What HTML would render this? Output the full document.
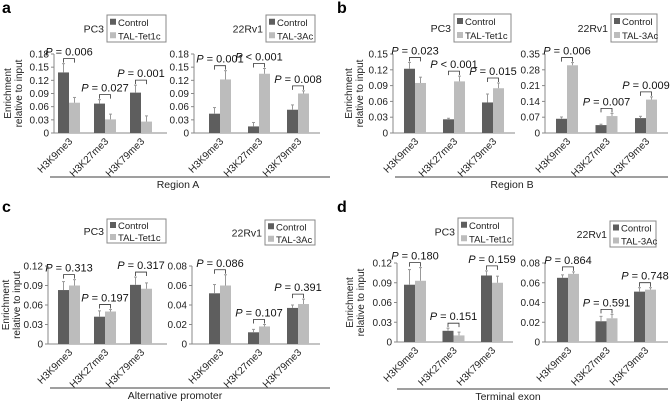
<!DOCTYPE html>
<html><head><meta charset="utf-8"><style>
body{margin:0;background:#fff;}
svg{display:block;font-family:"Liberation Sans",Arial,sans-serif;}
</style></head><body>
<svg id="fig" width="670" height="402" viewBox="0 0 670 402"></svg>
<script>
const categories = ["H3K9me3","H3K27me3","H3K79me3"];
// Panel a
const aPC3Ctrl=[0.138,0.067,0.092], aPC3Tal=[0.069,0.031,0.026], aPC3CtrlErr=[0.02,0.009,0.017], aPC3TalErr=[0.012,0.012,0.013];
const aPC3P=["P = 0.006","P = 0.027","P = 0.001"], aPC3Ticks=["0","0.03","0.06","0.09","0.12","0.15","0.18"];
const aRvCtrl=[0.044,0.015,0.053], aRvTal=[0.122,0.135,0.090], aRvCtrlErr=[0.014,0.009,0.011], aRvTalErr=[0.02,0.012,0.006];
const aRvP=["P = 0.001","P < 0.001","P = 0.008"], aRvTicks=["0","0.03","0.06","0.09","0.12","0.15","0.18"];
// Panel b
const bPC3Ctrl=[0.122,0.026,0.058], bPC3Tal=[0.095,0.098,0.085], bPC3CtrlErr=[0.012,0.002,0.016], bPC3TalErr=[0.011,0.01,0.01];
const bPC3P=["P = 0.023","P < 0.001","P = 0.015"], bPC3Ticks=["0","0.03","0.06","0.09","0.12","0.15"];
const bRvCtrl=[0.063,0.035,0.066], bRvTal=[0.300,0.075,0.148], bRvCtrlErr=[0.008,0.004,0.008], bRvTalErr=[0.012,0.012,0.012];
const bRvP=["P = 0.006","P = 0.007","P = 0.009"], bRvTicks=["0","0.07","0.14","0.21","0.28","0.35"];
// Panel c
const cPC3Ctrl=[0.083,0.042,0.091], cPC3Tal=[0.090,0.050,0.085], cPC3CtrlErr=[0.013,0.009,0.012], cPC3TalErr=[0.009,0.003,0.009];
const cPC3P=["P = 0.313","P = 0.197","P = 0.317"], cPC3Ticks=["0","0.03","0.06","0.09","0.12"];
const cRvCtrl=[0.052,0.012,0.037], cRvTal=[0.060,0.018,0.041], cRvCtrlErr=[0.009,0.003,0.003], cRvTalErr=[0.011,0.002,0.005];
const cRvP=["P = 0.086","P = 0.107","P = 0.391"], cRvTicks=["0","0.02","0.04","0.06","0.08"];
// Panel d
const dPC3Ctrl=[0.087,0.017,0.101], dPC3Tal=[0.093,0.010,0.090], dPC3CtrlErr=[0.023,0.004,0.007], dPC3TalErr=[0.02,0.005,0.01];
const dPC3P=["P = 0.180","P = 0.151","P = 0.159"], dPC3Ticks=["0","0.03","0.06","0.09","0.12"];
const dRvCtrl=[0.065,0.021,0.051], dRvTal=[0.069,0.024,0.053], dRvCtrlErr=[0.003,0.005,0.004], dRvTalErr=[0.002,0.004,0.002];
const dRvP=["P = 0.864","P = 0.591","P = 0.748"], dRvTicks=["0","0.02","0.04","0.06","0.08"];

const NS="http://www.w3.org/2000/svg";
const svg=document.getElementById('fig');
function el(tag,attrs,parent,text){
  const e=document.createElementNS(NS,tag);
  for(const k in attrs)e.setAttribute(k,attrs[k]);
  if(text!==undefined)e.textContent=text;
  (parent||svg).appendChild(e);return e;
}
const CTRL="#5e5e5e", TAL="#bcbcbc";

function chart(c){
  const g=el('g',{});
  
  
  const ticks=c.ticks, ymax=parseFloat(ticks[ticks.length-1]);
  const y=v=>c.yb-v/ymax*(c.yb-c.yt);
  const xc=i=>c.g0+c.gs*i;
  const ya=el('line',{x1:c.x0,y1:c.yt,x2:c.x0,y2:c.yb,stroke:'#888','stroke-width':1},g);
  
  const xa=el('line',{x1:c.x0,y1:c.yb,x2:c.x1,y2:c.yb,stroke:'#888','stroke-width':1},g);
  
  ticks.forEach(t=>{
    const v=parseFloat(t), yy=y(v);
    el('line',{x1:c.x0-3,y1:yy,x2:c.x0,y2:yy,stroke:'#888'},g);
    const tl=el('text',{x:c.x0-5,y:yy+3.5,'font-size':10,'text-anchor':'end',fill:'#222'},g,t);
    
  });
  categories.forEach((cat,i)=>{
    const cx=xc(i), bw=11;
    const xC=cx-bw, xT=cx;
    const hc=c.ctrl[i], ht=c.tal[i];
    const r1=el('rect',{x:xC,y:y(hc),width:bw,height:c.yb-y(hc),fill:CTRL},g);
    
    const r2=el('rect',{x:xT,y:y(ht),width:bw,height:c.yb-y(ht),fill:TAL},g);
    
    [[xC+bw/2,hc,c.ctrlErr[i]],[xT+bw/2,ht,c.talErr[i]]].forEach(([ex,v,e])=>{
      const ey=y(v+e);
      el('line',{x1:ex,y1:y(v),x2:ex,y2:ey,stroke:'#999'},g);
      el('line',{x1:ex-1.5,y1:ey,x2:ex+1.5,y2:ey,stroke:'#999'},g);
    });
    const top=Math.min(y(hc+c.ctrlErr[i]),y(ht+c.talErr[i]));
    const by=top-5, b1=xC+bw/2, b2=xT+bw/2;
    el('polyline',{points:`${b1},${by+4} ${b1},${by} ${b2},${by} ${b2},${by+4}`,fill:'none',stroke:'#333','stroke-width':0.8},g);
    const pt=el('text',{x:cx,y:by-3,'font-size':11,'text-anchor':'middle',fill:'#111'},g);
    
    const s=c.p[i];
    el('tspan',{'font-style':'italic'},pt,'P');
    el('tspan',{},pt,s.slice(1));
    const cl=el('text',{x:cx+4,y:c.yb+9,'font-size':10,'text-anchor':'end',fill:'#222',transform:`rotate(-45 ${cx+4} ${c.yb+9})`},g,cat);
    
  });
  const L=c.leg;
  const lg=el('g',{},g);
  
  el('rect',{x:L[0],y:L[1],width:L[2],height:L[3],fill:'#fff',stroke:'#888'},lg);
  const hh=L[3]/2;
  el('rect',{x:L[0]+3,y:L[1]+hh/2-3,width:6,height:6,fill:CTRL},lg);
  el('text',{x:L[0]+11,y:L[1]+hh/2+4,'font-size':9.5,fill:'#222'},lg,'Control');
  el('rect',{x:L[0]+3,y:L[1]+hh+hh/2-3,width:6,height:6,fill:TAL},lg);
  el('text',{x:L[0]+11,y:L[1]+hh+hh/2+4,'font-size':9.5,fill:'#222'},lg,c.treat);
  const cn=el('text',{x:L[0]-3,y:L[1]+hh+4,'font-size':10.5,'text-anchor':'end',fill:'#222'},g,c.cell);
  
  if(c.title){
    const tx=c.title;
    const t=el('text',{x:0,y:0,'font-size':10,'text-anchor':'middle',fill:'#222',transform:`translate(${tx} ${(c.yt+c.yb)/2}) rotate(-90)`},g);
    
    el('tspan',{x:0,dy:0},t,'Enrichment');
    el('tspan',{x:0,dy:11},t,'relative to input');
  }
}
function panel(letter,lx,ly,line,label){
  const t=el('text',{x:lx,y:ly,'font-size':16,'font-weight':'bold',fill:'#000'},svg,letter);
  
  const l=el('line',{x1:line[0],y1:line[2],x2:line[1],y2:line[2],stroke:'#666','stroke-width':1.2});
  
  const r=el('text',{x:line[3],y:line[2]+11,'font-size':10.5,'text-anchor':'middle',fill:'#222'},svg,label);
  
}
panel('a',2,13,[50,330,177,178],'Region A');
panel('b',337,13,[395,668,177,512],'Region B');
panel('c',2,212,[50,330,388,175],'Alternative promoter');
panel('d',337,212,[397,668,389,508],'Terminal exon');

chart({name:'chart-a-pc3',x0:54,x1:167,yt:54,yb:133,g0:69,gs:36,ticks:aPC3Ticks,ctrl:aPC3Ctrl,tal:aPC3Tal,ctrlErr:aPC3CtrlErr,talErr:aPC3TalErr,p:aPC3P,leg:[107,15,59,27],treat:'TAL-Tet1c',cell:'PC3',title:11});
chart({name:'chart-a-22rv1',x0:194,x1:320,yt:54,yb:133,g0:220,gs:39,ticks:aRvTicks,ctrl:aRvCtrl,tal:aRvTal,ctrlErr:aRvCtrlErr,talErr:aRvTalErr,p:aRvP,leg:[266,15,49,27],treat:'TAL-3Ac',cell:'22Rv1'});
chart({name:'chart-b-pc3',x0:393,x1:515,yt:54,yb:133,g0:415,gs:39,ticks:bPC3Ticks,ctrl:bPC3Ctrl,tal:bPC3Tal,ctrlErr:bPC3CtrlErr,talErr:bPC3TalErr,p:bPC3P,leg:[454,14,57,28],treat:'TAL-Tet1c',cell:'PC3',title:352});
chart({name:'chart-b-22rv1',x0:545,x1:668,yt:54,yb:133,g0:567,gs:39.5,ticks:bRvTicks,ctrl:bRvCtrl,tal:bRvTal,ctrlErr:bRvCtrlErr,talErr:bRvTalErr,p:bRvP,leg:[611,14,46,28],treat:'TAL-3Ac',cell:'22Rv1'});
chart({name:'chart-c-pc3',x0:48,x1:167,yt:266,yb:344,g0:69,gs:36,ticks:cPC3Ticks,ctrl:cPC3Ctrl,tal:cPC3Tal,ctrlErr:cPC3CtrlErr,talErr:cPC3TalErr,p:cPC3P,leg:[107,219,59,24],treat:'TAL-Tet1c',cell:'PC3',title:9});
chart({name:'chart-c-22rv1',x0:192,x1:320,yt:266,yb:344,g0:220,gs:39,ticks:cRvTicks,ctrl:cRvCtrl,tal:cRvTal,ctrlErr:cRvCtrlErr,talErr:cRvTalErr,p:cRvP,leg:[265,220,50,25],treat:'TAL-3Ac',cell:'22Rv1'});
chart({name:'chart-d-pc3',x0:397,x1:513,yt:263,yb:342,g0:415,gs:38.5,ticks:dPC3Ticks,ctrl:dPC3Ctrl,tal:dPC3Tal,ctrlErr:dPC3CtrlErr,talErr:dPC3TalErr,p:dPC3P,leg:[458,218,55,27],treat:'TAL-Tet1c',cell:'PC3',title:353});
chart({name:'chart-d-22rv1',x0:545,x1:668,yt:263,yb:342,g0:568,gs:38.5,ticks:dRvTicks,ctrl:dRvCtrl,tal:dRvTal,ctrlErr:dRvCtrlErr,talErr:dRvTalErr,p:dRvP,leg:[610,221,46,26],treat:'TAL-3Ac',cell:'22Rv1'});
</script>
</body></html>
